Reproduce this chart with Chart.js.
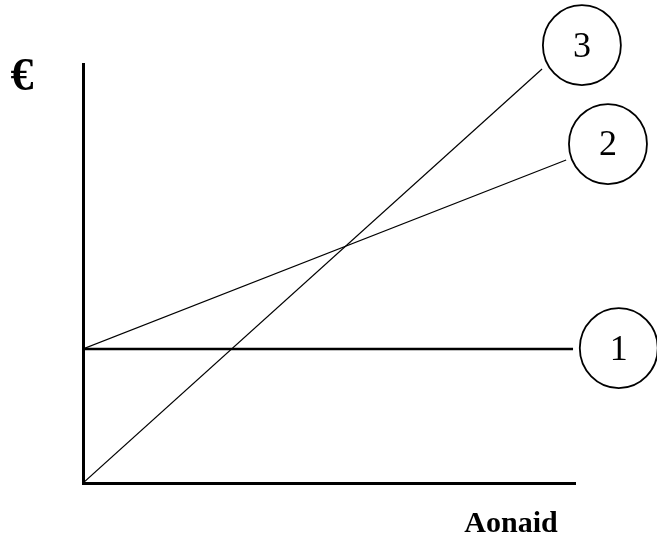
<!DOCTYPE html>
<html>
<head>
<meta charset="utf-8">
<script src="https://cdn.jsdelivr.net/npm/chart.js@4"></script>
<style>
  body { margin: 0; background: #fff; }
  canvas { display: block; }
</style>
</head>
<body>
<canvas id="costChart" width="657" height="539"></canvas>
<script>
// Line end points (x: 0-100 along Aonaid axis, y: 0-100 along € axis)
const line1X = [0, 99.6];
const line1Y = [32, 32];
const line2X = [0, 98.2];
const line2Y = [32, 77.1];
const line3X = [0, 93.3];
const line3Y = [0, 98.8];

// Numbered circles at the end of each line
const circleLabels = ['1', '2', '3'];
const circleX = [108.9, 106.7, 101.4];
const circleY = [32.2, 80.9, 104.5];

const yAxisTitle = '€';
const xAxisTitle = 'Aonaid';

function toPoints(xs, ys) {
    return xs.map((x, i) => ({ x: x, y: ys[i] }));
}

// Draw the circles with their numbers, plus the two axis titles
const labelPlugin = {
    id: 'labels',
    afterDatasetsDraw(chart) {
        const ctx = chart.ctx;
        const area = chart.chartArea;
        const xs = chart.scales.x;
        const ys = chart.scales.y;
        ctx.save();
        ctx.strokeStyle = '#000';
        ctx.lineWidth = 1.8;
        ctx.fillStyle = '#000';
        ctx.textAlign = 'center';
        ctx.textBaseline = 'middle';
        ctx.font = '36px "Liberation Serif"';
        circleLabels.forEach((label, i) => {
            const px = xs.getPixelForValue(circleX[i]);
            const py = ys.getPixelForValue(circleY[i]);
            ctx.beginPath();
            ctx.ellipse(px, py, 39, 40, 0, 0, Math.PI * 2);
            ctx.fillStyle = '#fff';
            ctx.fill();
            ctx.stroke();
            ctx.fillStyle = '#000';
            ctx.fillText(label, px, py + 2);
        });
        ctx.font = 'bold 46px "Liberation Serif"';
        ctx.fillText(yAxisTitle, 22, 78);
        ctx.font = 'bold 30px "Liberation Serif"';
        ctx.textBaseline = 'alphabetic';
        ctx.fillText(xAxisTitle, 511, area.bottom + 49);
        ctx.restore();
    }
};

const ctx = document.getElementById('costChart').getContext('2d');
new Chart(ctx, {
    type: 'scatter',
    data: {
        datasets: [
            {
                data: toPoints(line1X, line1Y),
                showLine: true,
                borderColor: '#000',
                borderWidth: 2.5,
                pointRadius: 0
            },
            {
                data: toPoints(line2X, line2Y),
                showLine: true,
                borderColor: '#000',
                borderWidth: 1.2,
                pointRadius: 0
            },
            {
                data: toPoints(line3X, line3Y),
                showLine: true,
                borderColor: '#000',
                borderWidth: 1.2,
                pointRadius: 0
            }
        ]
    },
    options: {
        responsive: false,
        animation: false,
        layout: {
            padding: { left: 83, right: 82, top: 64, bottom: 56 }
        },
        plugins: {
            legend: { display: false },
            tooltip: { enabled: false }
        },
        scales: {
            x: {
                type: 'linear',
                min: 0,
                max: 100,
                grid: { display: false, drawTicks: false },
                ticks: { display: false },
                border: { display: true, color: '#000', width: 3 }
            },
            y: {
                type: 'linear',
                min: 0,
                max: 100,
                grid: { display: false, drawTicks: false },
                ticks: { display: false },
                border: { display: true, color: '#000', width: 3 }
            }
        }
    },
    plugins: [labelPlugin]
});
</script>
</body>
</html>
